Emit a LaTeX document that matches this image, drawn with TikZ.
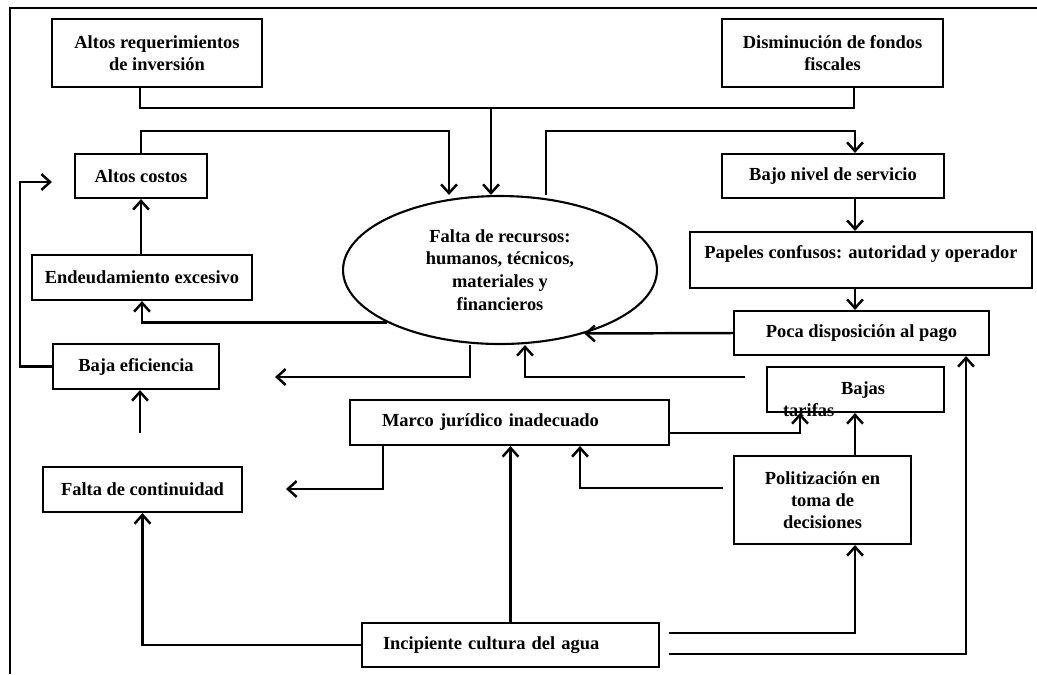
\documentclass[tikz,border=0pt]{standalone}
\usepackage{fontspec}
\setmainfont{Liberation Serif}
\usetikzlibrary{arrows.meta, shapes.geometric, calc}

\begin{document}
\begin{tikzpicture}[
    x=0.02cm, y=-0.02cm,
    box/.style={draw, line width=1.2pt, inner sep=0pt, align=center, font=\bfseries\fontsize{10.5}{12.5}\selectfont},
    lbox/.style={box, align=left, inner ysep=0pt},
    arrow/.style={-{Straight Barb[length=5pt, width=9pt]}, line width=1.4pt},
    link/.style={line width=1.4pt},
    edgeline/.style={line width=1.1pt},
]
    \useasboundingbox (0,0) rectangle (1037,674);
    \draw[edgeline] (10,674) -- (10,8) -- (1037,8);

    \node[box, minimum width=4.2cm, minimum height=1.36cm] (altos) at (157,53) {Altos requerimientos\\de inversión};
    \node[box, minimum width=4.42cm, minimum height=1.36cm] (fondos) at (832.5,53) {Disminución de fondos\\fiscales};
    \node[box, minimum width=2.64cm, minimum height=0.88cm] (costos) at (141,176) {Altos costos};
    \node[box, minimum width=4.44cm, minimum height=0.88cm] (servicio) at (833,176) {Bajo nivel de servicio};
    \node[box, minimum width=4.4cm, minimum height=0.9cm] (deuda) at (142,277.5) {Endeudamiento excesivo};
    \node[box, ellipse, minimum width=6.28cm, minimum height=2.96cm, font=\bfseries\fontsize{10.5}{13}\selectfont] (recursos) at (500,270)
        {Falta de recursos:\\humanos, técnicos,\\materiales y\\financieros};
    \node[box, minimum width=6.84cm, minimum height=1.12cm, text height=0.25cm, text depth=0.33cm] (papeles) at (861,260)
        {Papeles confusos: autoridad y operador};
    \node[box, minimum width=5.1cm, minimum height=0.88cm] (pago) at (861.5,333) {Poca disposición al pago};
    \node[box, minimum width=3.32cm, minimum height=0.9cm] (eficiencia) at (136,366.5) {Baja eficiencia};
    \node[box, minimum width=3.54cm, minimum height=0.9cm] (tarifas) at (855.5,389.5) {};
    \node[lbox, draw=none, anchor=north west] (tarifastxt) at (782,381) {\hspace*{1.16cm}Bajas\\tarifas};
    \node[lbox, minimum width=6.38cm, minimum height=0.9cm, inner xsep=0.64cm, text width=5.1cm] (marco) at (509.5,422.5)
        {Marco jurídico inadecuado};
    \node[box, minimum width=3.98cm, minimum height=0.9cm] (continuidad) at (142.5,489.5) {Falta de continuidad};
    \node[box, minimum width=3.54cm, minimum height=1.76cm] (politica) at (822.5,500) {Politización en\\toma de\\decisiones};
    \node[lbox, minimum width=5.94cm, minimum height=0.88cm, inner xsep=0.42cm, text width=5.1cm] (cultura) at (510.5,645)
        {Incipiente cultura del agua};

    \coordinate (j1) at (140,108);
    \coordinate (j2) at (854,108);
    \coordinate (j3) at (491,108);
    \coordinate (k1) at (449,131);
    \coordinate (k2) at (546,131);
    \coordinate (k3) at (855,131);
    \coordinate (e1) at (470,377);
    \coordinate (e2) at (275,377);
    \coordinate (f1) at (745,377);
    \coordinate (f2) at (525,377);
    \coordinate (g1) at (20,182);
    \coordinate (g2) at (52,182);
    \coordinate (h1) at (140,433);
    \coordinate (m1) at (383,489);
    \coordinate (m2) at (286,489);
    \coordinate (n1) at (800,433);
    \coordinate (p1) at (723,488);
    \coordinate (p2) at (580,488);
    \coordinate (r1) at (669,633);
    \coordinate (s1) at (669,654);
    \coordinate (s2) at (966,654);

    \draw[link] (j1 |- altos.south) -- (j1) -- (j2) -- (j2 |- fondos.south);
    \draw[arrow] (j3) -- (j3 |- recursos.north);
    \draw[arrow] (costos.north) |- (k1) -- (k1 |- recursos.north);
    \draw[arrow] (k2 |- recursos.north) -- (k2) -- (k3) -- (k3 |- servicio.north);
    \draw[arrow] (k3 |- servicio.south) -- (k3 |- papeles.north);
    \draw[arrow] (k3 |- papeles.south) -- (k3 |- pago.north);
    \draw[arrow] (pago.west) -- (recursos.-37.5);
    \draw[arrow] (recursos.205) -| (deuda.south);
    \draw[arrow] (costos.south |- deuda.north) -- (costos.south);
    \draw[arrow] (e1 |- recursos.south) -- (e1) -- (e2);
    \draw[arrow] (f1) -- (f2) -- (f2 |- recursos.south);
    \draw[arrow] (eficiencia.west) -| (g1) -- (g2);
    \draw[arrow] (h1) -- (h1 |- eficiencia.south);
    \draw[arrow] (m1 |- marco.south) -- (m1) -- (m2);
    \draw[arrow] (marco.east |- n1) -- (n1) -- (n1 |- tarifas.south);
    \draw[arrow] (k3 |- politica.north) -- (k3 |- tarifas.south);
    \draw[arrow] (p1) -- (p2) -- (p2 |- marco.south);
    \draw[arrow] (cultura.north) -- (cultura.north |- marco.south);
    \draw[arrow] (cultura.west) -| (continuidad.south);
    \draw[arrow] (r1) -| (k3 |- politica.south);
    \draw[arrow] (s1) -- (s2) -- (s2 |- pago.south);
\end{tikzpicture}
\end{document}
